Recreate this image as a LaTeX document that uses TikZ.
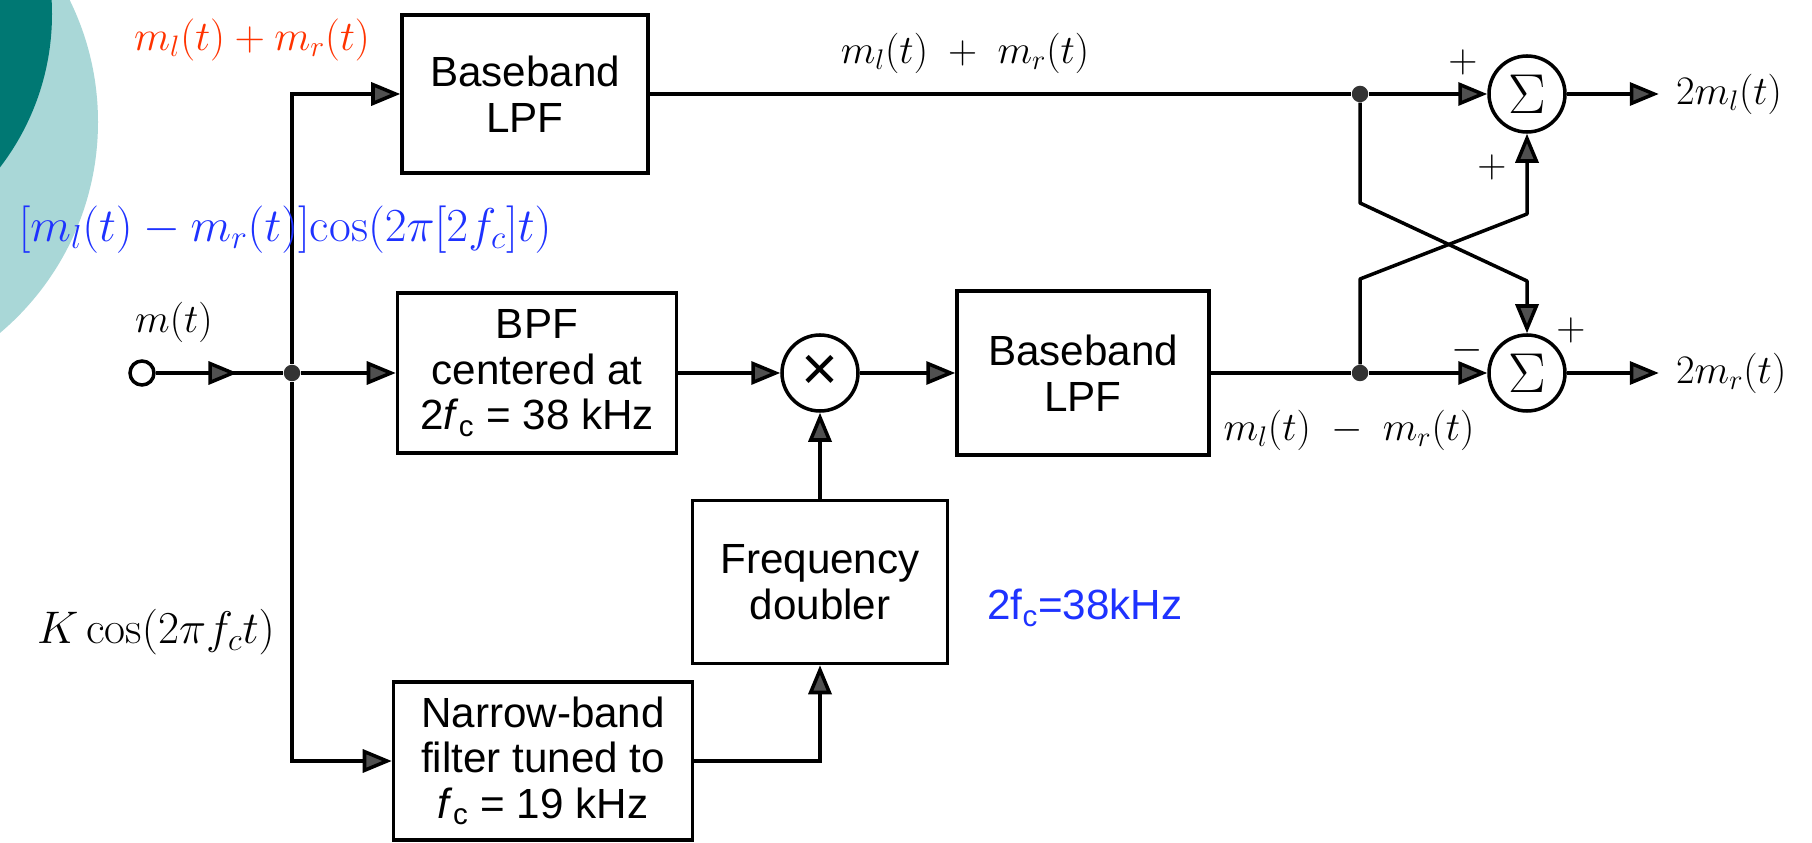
\RequirePackage{fix-cm}
\documentclass[tikz,border=0pt]{standalone}
\usepackage{fontspec}
\setsansfont{Liberation Sans}
\usepackage{xcolor}
\usepackage{tikz}
\usetikzlibrary{arrows.meta,positioning,calc,decorations.markings}
\definecolor{darkteal}{HTML}{007873}
\definecolor{lightteal}{HTML}{A9D7D7}
\definecolor{slidered}{HTML}{FF3300}
\definecolor{slideblue}{HTML}{1E32FF}
\definecolor{tipgray}{HTML}{505050}
\tikzset{
  >={Triangle[length=5.8mm,width=4.6mm,fill=tipgray]},
  blockbox/.style={
    draw=black,fill=white,line width=2pt,
    align=center,inner sep=2pt,
    font=\sffamily\fontsize{24}{26}\selectfont
  },
  sumnode/.style={
    circle,draw=black,line width=2pt,minimum size=15.2mm,
    inner sep=0pt,font=\fontsize{32}{32}\selectfont
  },
  dotnode/.style={circle,fill=black!80,minimum size=3.3mm,inner sep=0pt},
  sig/.style={font=\fontsize{23}{23}\selectfont,inner sep=1pt},
  slidelabel/.style={font=\fontsize{26}{26}\selectfont,inner sep=0pt},
  wire/.style={line width=2pt},
  arrow/.style={wire,->},
  midarrow/.style={wire,postaction={decorate},
    decoration={markings,mark=at position #1 with {\arrow{>}}}}
}

\begin{document}
\begin{tikzpicture}[x=0.2mm,y=-0.2mm]
\useasboundingbox (0,0) rectangle (1812,843);
\fill[white] (0,0) rectangle (1812,843);

% slide decoration
\begin{scope}
\clip (0,0) rectangle (1812,843);
\fill[lightteal] (-178,122) circle (55.2mm);
\fill[darkteal] (-200,14) circle (50.4mm);
\end{scope}

% input
\node[circle,draw,line width=2pt,minimum size=4.8mm,inner sep=0pt] (src) at (142,373) {};
\node[sig] (srclbl) at (174,322) {$m(t)$};
\node[dotnode] (jin) at (292,373) {};

% blocks
\node[blockbox,minimum width=49.2mm,minimum height=31.6mm] (lpfsum) at (525,94)
{Baseband\\LPF};
\node[blockbox,minimum width=55.8mm,minimum height=32mm] (bpf) at (537,373)
{BPF\\centered at\\2\textit{f}\textsubscript{c} = 38 kHz};
\node[sumnode,font=\sffamily\fontsize{36}{36}\selectfont] (mix) at (820,373) {×};
\node[blockbox,minimum width=50.4mm,minimum height=32.8mm] (lpfdiff) at (1083,373)
{Baseband\\LPF};
\node[blockbox,minimum width=51mm,minimum height=32.6mm] (dbl) at (820,582)
{Frequency\\doubler};
\node[blockbox,minimum width=59.8mm,minimum height=31.6mm] (nbf) at (543,761)
{Narrow-band\\filter tuned to\\\textit{f}\textsubscript{c} = 19 kHz};

% matrix
\node[dotnode] (jsum) at (1360,94) {};
\node[dotnode] (jdiff) at (1360,373) {};
\node[sumnode] (sumL) at (1527,94) {$\Sigma$};
\node[sumnode] (sumR) at (1527,373) {$\Sigma$};
\coordinate (k1) at (1360,203);
\coordinate (k2) at (1527,281);
\coordinate (k3) at (1360,279);
\coordinate (k4) at (1527,214);
\node[sig,inner xsep=3.4mm,right=18.4mm of sumL] (outL) {$2m_l(t)$};
\node[sig,inner xsep=3.4mm,right=18.4mm of sumR] (outR) {$2m_r(t)$};

\node[sig] (pL1) at (1463,62) {$+$};
\node[sig] (pL2) at (1492,167) {$+$};
\node[sig] (pR1) at (1571,330) {$+$};
\node[sig] (mR1) at (1467,350) {$-$};

\node[sig] (sumlbl) at (965,53) {$m_l(t)\;+\;m_r(t)$};
\node[sig] (difflbl) at (1349,430) {$m_l(t)\;-\;m_r(t)$};

% connectors
\draw[midarrow=0.64] (src) -- (jin);
\draw[arrow] (jin) |- (lpfsum);
\draw[arrow] (jin) |- (nbf);
\draw[arrow] (jin) -- (bpf);
\draw[arrow] (bpf) -- (mix);
\draw[arrow] (mix) -- (lpfdiff);
\draw[arrow] (dbl) -- (mix);
\draw[arrow] (nbf) -| (dbl);
\draw[wire] (lpfsum) -- (jsum);
\draw[wire] (lpfdiff) -- (jdiff);
\draw[arrow] (jsum) -- (sumL);
\draw[arrow] (jdiff) -- (sumR);
\draw[arrow,line join=round] (jsum) -- (k1) -- (k2) -- (sumR);
\draw[arrow,line join=round] (jdiff) -- (k3) -- (k4) -- (sumL);
\draw[arrow] (sumL) -- (outL);
\draw[arrow] (sumR) -- (outR);

% slide annotations
\node[slidelabel,font=\fontsize{24}{24}\selectfont,text=slidered] (redlbl) at (252,40)
{$m_l(t)+m_r(t)$};
\node[slidelabel,font=\fontsize{27}{27}\selectfont,text=slideblue] (bluelbl) at (285,230)
{$[m_l(t)-m_r(t)]\mathrm{cos}(2\pi[2f_c]t)$};
\node[slidelabel] (klbl) at (156,632) {$K\cos(2\pi f_c t)$};
\node[font=\sffamily\fontsize{24}{24}\selectfont,text=slideblue] (fclbl) at (1085,608)
{2f\textsubscript{c}=38kHz};
\end{tikzpicture}
\end{document}
